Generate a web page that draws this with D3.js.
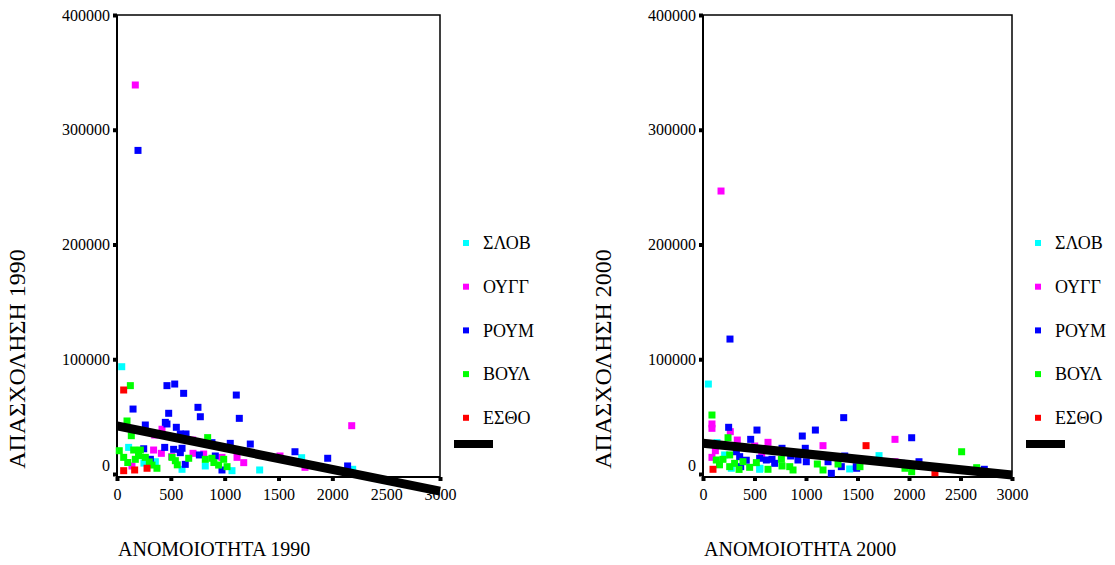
<!DOCTYPE html>
<html>
<head>
<meta charset="utf-8">
<script src="https://cdn.jsdelivr.net/npm/d3@7/dist/d3.min.js"></script>
<style>
  body { margin: 0; background: #fff; }
  svg { display: block; }
  svg text { font-family: "Liberation Serif", "DejaVu Serif", serif; }
</style>
</head>
<body>
<svg id="chart" width="1115" height="565"></svg>
<script>
const seriesNames = ['ΣΛΟΒ', 'ΟΥΓΓ', 'ΡΟΥΜ', 'ΒΟΥΛ', 'ΕΣΘΟ'];
const seriesColors = ['#00ffff', '#ff00ff', '#0000ff', '#00ff00', '#ff0000'];
const xTicks = [0, 500, 1000, 1500, 2000, 2500, 3000];
const yTicks = [0, 100000, 200000, 300000, 400000];

// [ανομοιότητα, απασχόληση]
const slov1990 = [[44, 93500], [108, 23200], [250, 9500], [356, 10700], [604, 4100], [820, 7000],
  [1068, 2900], [1325, 3500], [1715, 14200], [2189, 4100]];
const oygg1990 = [[170, 339000], [418, 39000], [350, 34000], [703, 29600], [340, 20900], [412, 18000],
  [508, 15100], [706, 18000], [805, 17400], [975, 14500], [1115, 14500], [1177, 9900], [139, 7000],
  [2180, 42100], [1514, 15700], [1746, 5800]];
const roym1990 = [[195, 282000], [464, 77000], [536, 78400], [619, 70300], [1108, 68800], [149, 56600],
  [752, 58100], [774, 49900], [480, 52900], [1136, 48500], [263, 42700], [449, 45000], [464, 43600],
  [551, 40700], [588, 34900], [641, 34900], [882, 27300], [1052, 26700], [1238, 26100], [443, 23200],
  [526, 21500], [604, 22400], [588, 18600], [248, 22000], [765, 16600], [913, 15700], [310, 12800],
  [634, 8400], [975, 3500], [1653, 19400], [1957, 13700], [2142, 7000]];
const voyl1990 = [[124, 77000], [93, 46200], [133, 33400], [842, 31700], [21, 20300], [155, 20900],
  [217, 20900], [62, 14500], [170, 12800], [263, 14500], [325, 7800], [371, 5000], [511, 14500],
  [542, 11600], [666, 13700], [820, 12800], [882, 13700], [944, 7800], [991, 12800], [1022, 6400],
  [100, 10000], [200, 16000], [300, 10500], [560, 8000], [900, 10000]];
const estho1990 = [[62, 73200], [62, 2900], [164, 3500], [279, 5000]];

const slov2000 = [[52, 78400], [136, 27300], [210, 16600], [275, 5000], [550, 4100], [553, 5000],
  [585, 22000], [1424, 4400], [1709, 16000]];
const oygg2000 = [[175, 246600], [87, 43600], [87, 39800], [265, 36900], [333, 29600], [631, 27600],
  [1165, 24700], [120, 20300], [87, 14500], [502, 24400], [570, 16600], [1864, 30200], [1864, 10700]];
const roym2000 = [[262, 117600], [249, 40700], [524, 38300], [463, 30200], [964, 33100], [1091, 38300],
  [1366, 49100], [767, 22400], [993, 22400], [324, 19400], [356, 15100], [366, 6400], [420, 12000],
  [550, 13700], [615, 12200], [670, 12800], [696, 9300], [851, 15700], [922, 12200], [1003, 10700],
  [1214, 10700], [1246, 600], [1376, 15700], [1343, 6400], [1488, 6400], [1492, 5000], [2026, 31600],
  [1929, 9300], [2097, 10700], [2731, 4100]];
const voyl2000 = [[87, 51400], [243, 31600], [129, 12200], [194, 12800], [259, 16600], [307, 9300],
  [259, 6400], [388, 10700], [453, 5800], [518, 9900], [631, 4100], [761, 12800], [767, 7000],
  [842, 6400], [874, 3500], [1110, 8700], [1165, 3500], [1311, 8700], [1524, 6400], [1961, 5000],
  [2026, 2000], [2511, 19400], [2657, 5500], [160, 8000], [350, 4000]];
const estho2000 = [[97, 4100], [1583, 24700], [2252, 1100]];

// ευθεία παλινδρόμησης: απασχόληση = a + b * ανομοιότητα
const fit1990 = { a: 42000, b: -19 };
const fit2000 = { a: 26750, b: -9.2 };

const svg = d3.select('#chart');

function drawPanel(opt) {
  const g = svg.append('g');
  const x = d3.scaleLinear().domain([0, 3000]).range([opt.left, opt.right]);
  const y = d3.scaleLinear().domain([0, 400000]).range([474, 15]);
  const bottom = 477;

  // frame top / right
  g.append('path')
    .attr('d', `M${opt.left},15H${opt.right}V${bottom}`)
    .attr('fill', 'none').attr('stroke', '#000').attr('stroke-width', 1.5);

  const yAxis = g.append('g')
    .attr('transform', `translate(${opt.left},0)`)
    .call(d3.axisLeft(y).tickValues(yTicks).tickSize(4).tickPadding(3).tickFormat(d3.format('d')))
    .attr('font-family', null).attr('font-size', 16);
  yAxis.select('.domain').attr('d', `M0,15V${bottom}`).attr('stroke-width', 2);
  yAxis.selectAll('.tick line').attr('stroke-width', 4);
  yAxis.selectAll('.tick text').attr('fill', '#000')
    .attr('dy', d => d === 0 ? '-0.25em' : '0.32em');

  const xAxis = g.append('g')
    .attr('transform', `translate(0,${bottom})`)
    .call(d3.axisBottom(x).tickValues(xTicks).tickSize(4).tickPadding(8).tickFormat(d3.format('d')))
    .attr('font-family', null).attr('font-size', 16);
  xAxis.select('.domain').attr('d', `M${opt.left},0H${opt.right}`).attr('stroke-width', 2);
  xAxis.selectAll('.tick line').attr('stroke-width', 4);
  xAxis.selectAll('.tick text').attr('fill', '#000');

  // points
  opt.data.forEach((pts, i) => {
    g.append('g').selectAll('rect')
      .data(pts)
      .join('rect')
      .attr('x', d => x(d[0]) - 3.5)
      .attr('y', d => y(d[1]) - 3.5)
      .attr('width', 7).attr('height', 7)
      .attr('fill', seriesColors[i]);
  });

  // regression line
  g.append('line')
    .attr('x1', x(0)).attr('y1', y(opt.fit.a))
    .attr('x2', x(3000)).attr('y2', y(opt.fit.a + opt.fit.b * 3000))
    .attr('stroke', '#000').attr('stroke-width', 9);

  // legend
  const lg = g.append('g').attr('transform', `translate(${opt.right},0)`);
  seriesNames.forEach((name, i) => {
    const cy = 243 + i * 43.7;
    lg.append('rect').attr('x', 23).attr('y', cy - 3).attr('width', 6).attr('height', 6)
      .attr('fill', seriesColors[i]);
    lg.append('text').attr('x', 43).attr('y', cy).attr('dy', '0.35em')
      .attr('font-size', 18).text(name);
  });
  lg.append('line').attr('x1', 14).attr('x2', 53).attr('y1', 444).attr('y2', 444)
    .attr('stroke', '#000').attr('stroke-width', 8);

  // titles
  g.append('text').attr('x', opt.left + 1).attr('y', 556)
    .attr('font-size', 20).text(opt.xTitle);
  g.append('text')
    .attr('transform', `translate(${opt.left - 92},359) rotate(-90)`)
    .attr('text-anchor', 'middle').attr('font-size', 24).text(opt.yTitle);
}

drawPanel({
  left: 117, right: 440,
  data: [slov1990, oygg1990, roym1990, voyl1990, estho1990],
  fit: fit1990,
  xTitle: 'ΑΝΟΜΟΙΟΤΗΤΑ 1990', yTitle: 'ΑΠΑΣΧΟΛΗΣΗ 1990'
});
drawPanel({
  left: 703, right: 1012,
  data: [slov2000, oygg2000, roym2000, voyl2000, estho2000],
  fit: fit2000,
  xTitle: 'ΑΝΟΜΟΙΟΤΗΤΑ 2000', yTitle: 'ΑΠΑΣΧΟΛΗΣΗ 2000'
});
</script>
</body>
</html>
